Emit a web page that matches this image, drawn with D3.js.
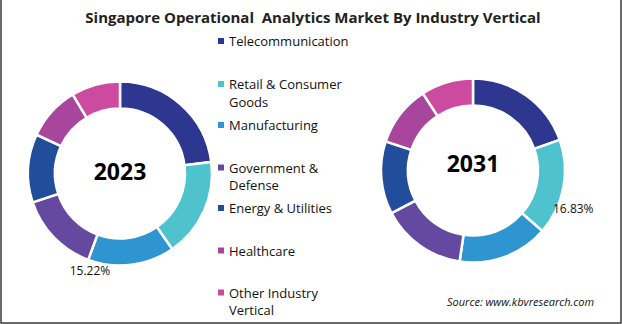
<!DOCTYPE html>
<html>
<head>
<meta charset="utf-8">
<script src="https://cdn.jsdelivr.net/npm/d3@7"></script>
<style>
  body { margin: 0; background: #fff; }
  svg text { font-family: "Open Sans", sans-serif; fill: #111; white-space: pre; }
</style>
</head>
<body>
<script>
// industry verticals, shares in percent
var categories = ["Telecommunication", "Retail & Consumer Goods", "Manufacturing",
  "Government & Defense", "Energy & Utilities", "Healthcare", "Other Industry Vertical"];
var share2023 = [23.0, 17.4, 15.22, 14.3, 12.0, 9.5, 8.58];
var share2031 = [19.6, 16.83, 15.9, 15.0, 12.8, 10.7, 9.17];
var colors = ["#2d3790", "#4fc3cd", "#2e95d0", "#6549a1", "#214d9b", "#a8459d", "#cd4aa1"];

// legend lines (wrapped the way they show)
var legendLines = [["Telecommunication"], ["Retail & Consumer", "Goods"], ["Manufacturing"],
  ["Government &", "Defense"], ["Energy & Utilities"], ["Healthcare"], ["Other Industry", "Vertical"]];

var width = 622, height = 324;

var svg = d3.select("body").append("svg")
    .attr("width", width)
    .attr("height", height);

svg.append("rect").attr("width", width).attr("height", height).attr("fill", "#fff");

// thin frame on the sides and bottom
svg.append("path")
    .attr("d", "M1,0 V323 H621 V0")
    .attr("fill", "none")
    .attr("stroke", "#3a3a3a")
    .attr("stroke-width", 1.5);

svg.append("text")
    .attr("x", 313)
    .attr("y", 23)
    .attr("text-anchor", "middle")
    .style("font-weight", "bold")
    .style("font-size", "15px")
    .style("fill", "#222")
    .text("Singapore Operational  Analytics Market By Industry Vertical");

var pie = d3.pie().sort(null).value(function(d) { return d; });
var arc = d3.arc().innerRadius(65).outerRadius(92);

function donut(values, cx, cy, year, yearDy) {
  var g = svg.append("g").attr("transform", "translate(" + cx + "," + cy + ")");
  g.selectAll("path")
      .data(pie(values))
    .enter().append("path")
      .attr("d", arc)
      .attr("fill", function(d, i) { return colors[i]; })
      .attr("stroke", "#fff")
      .attr("stroke-width", 2.5);
  g.append("text")
      .attr("y", yearDy)
      .attr("text-anchor", "middle")
      .attr("dy", "0.35em")
      .style("font-weight", "bold")
      .style("font-size", "23px")
      .style("fill", "#000")
      .text(year);
  return g;
}

donut(share2023, 120, 173.5, "2023", -2);
donut(share2031, 473, 170.5, "2031", -7);

// value callouts
svg.append("text")
    .attr("x", 90).attr("y", 275)
    .attr("text-anchor", "middle")
    .style("font-size", "12px")
    .text(share2023[2].toFixed(2) + "%");

svg.append("text")
    .attr("x", 553).attr("y", 213)
    .style("font-size", "12px")
    .text(share2031[1].toFixed(2) + "%");

// legend
var legendY = [46, 89, 130, 172.5, 213, 255.5, 297.5];
var legend = svg.append("g");
categories.forEach(function(c, i) {
  legend.append("rect")
      .attr("x", 218).attr("y", legendY[i] - 8)
      .attr("width", 6).attr("height", 6)
      .attr("fill", colors[i]);
  legendLines[i].forEach(function(line, j) {
    legend.append("text")
        .attr("x", 229)
        .attr("y", legendY[i] + j * 17.5)
        .style("font-size", "13px")
        .text(line);
  });
});

svg.append("text")
    .attr("x", 447).attr("y", 306)
    .style("font-size", "11px")
    .style("font-style", "italic")
    .text("Source: www.kbvresearch.com");
</script>
</body>
</html>
